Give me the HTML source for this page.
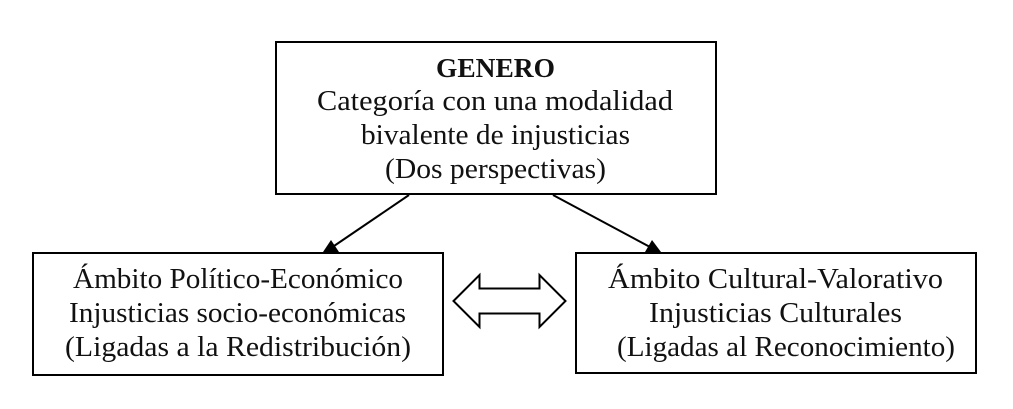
<!DOCTYPE html>
<html lang="es">
<head>
<meta charset="utf-8">
<title>Genero</title>
<style>
html,body{margin:0;padding:0;background:#fff;width:1013px;height:409px;overflow:hidden}
svg{display:block}
text{font-family:"Liberation Serif",serif;font-size:29px;fill:#111}
</style>
</head>
<body>
<svg width="1013" height="409" viewBox="0 0 1013 409" xmlns="http://www.w3.org/2000/svg">
<rect width="1013" height="409" fill="#fff"/>
<g fill="none" stroke="#000" stroke-width="2">
<rect x="276" y="42" width="440" height="152"/>
<rect x="33" y="253" width="410" height="122"/>
<rect x="576" y="253" width="400" height="120"/>
<line x1="409" y1="195" x2="334" y2="246"/>
<line x1="553" y1="195" x2="650" y2="247"/>
<polygon points="453.5,301 479.5,275 479.5,288.5 539.5,288.5 539.5,275 565.5,301 539.5,327 539.5,313.5 479.5,313.5 479.5,327"/>
</g>
<polygon points="323,252 339,252 331,240" fill="#000"/>
<polygon points="645,252 661,252 652,240" fill="#000"/>
<text x="436" y="77" textLength="119" lengthAdjust="spacingAndGlyphs" font-weight="bold" style="font-size:27px">GENERO</text>
<text x="317" y="110" textLength="356" lengthAdjust="spacingAndGlyphs">Categoría con una modalidad</text>
<text x="361" y="144" textLength="269" lengthAdjust="spacingAndGlyphs">bivalente de injusticias</text>
<text x="385" y="178" textLength="221" lengthAdjust="spacingAndGlyphs">(Dos perspectivas)</text>
<text x="73" y="288" textLength="330" lengthAdjust="spacingAndGlyphs">Ámbito Político-Económico</text>
<text x="69" y="322" textLength="337" lengthAdjust="spacingAndGlyphs">Injusticias socio-económicas</text>
<text x="65" y="356" textLength="346" lengthAdjust="spacingAndGlyphs">(Ligadas a la Redistribución)</text>
<text x="608" y="288" textLength="335" lengthAdjust="spacingAndGlyphs">Ámbito Cultural-Valorativo</text>
<text x="649" y="322" textLength="253" lengthAdjust="spacingAndGlyphs">Injusticias Culturales</text>
<text x="617" y="356" textLength="338" lengthAdjust="spacingAndGlyphs">(Ligadas al Reconocimiento)</text>
</svg>
</body>
</html>
